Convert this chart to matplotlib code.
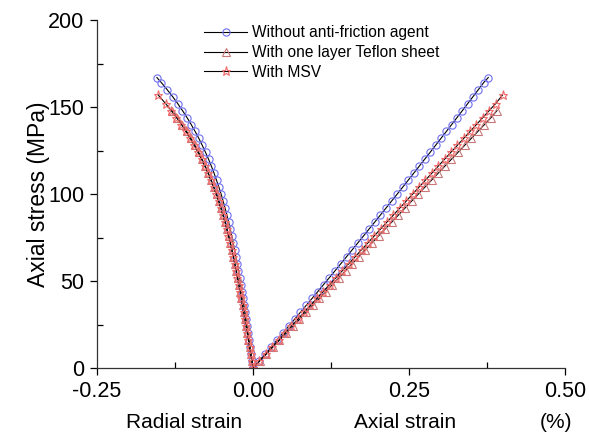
import matplotlib
matplotlib.use("Agg")
import matplotlib.pyplot as plt
from matplotlib.ticker import MultipleLocator

plt.rcParams['font.family'] = ['Liberation Sans', 'DejaVu Sans']

labels = ["Without anti-friction agent", "With one layer Teflon sheet", "With MSV"]

# Without anti-friction agent (blue circles)
stress_blue = [0, 4, 8, 12, 16, 20, 24, 28, 32, 36, 40, 44, 48, 52, 56, 60, 64, 68, 72, 76,
               80, 84, 88, 92, 96, 100, 104, 108, 112, 116, 120, 124, 128, 132, 136, 140,
               144, 148, 152, 156, 160, 164, 167]
axial_blue = [0.0, 0.0096, 0.0191, 0.0287, 0.0382, 0.0476, 0.0571, 0.0665, 0.0759, 0.0852,
              0.0946, 0.1039, 0.1131, 0.1224, 0.1316, 0.1408, 0.1499, 0.1590, 0.1681, 0.1772,
              0.1862, 0.1953, 0.2042, 0.2132, 0.2221, 0.2310, 0.2399, 0.2487, 0.2575, 0.2663,
              0.2750, 0.2838, 0.2925, 0.3011, 0.3098, 0.3184, 0.3269, 0.3355, 0.3440, 0.3525,
              0.3610, 0.3694, 0.3770]
radial_blue = [0.0, -0.0016, -0.0032, -0.0048, -0.0064, -0.0080, -0.0096, -0.0113, -0.0129,
               -0.0146, -0.0163, -0.0180, -0.0198, -0.0216, -0.0235, -0.0255, -0.0275, -0.0296,
               -0.0318, -0.0341, -0.0366, -0.0392, -0.0419, -0.0448, -0.0479, -0.0512, -0.0547,
               -0.0585, -0.0624, -0.0667, -0.0712, -0.0761, -0.0813, -0.0868, -0.0928, -0.0991,
               -0.1058, -0.1130, -0.1206, -0.1288, -0.1375, -0.1467, -0.1540]

# With one layer Teflon sheet (triangles)
stress_tef = [0, 4, 8, 12, 16, 20, 24, 28, 32, 36, 40, 44, 48, 52, 56, 60, 64, 68, 72, 76,
              80, 84, 88, 92, 96, 100, 104, 108, 112, 116, 120, 124, 128, 132, 136, 140,
              144, 148]
axial_tef = [0.0, 0.0106, 0.0212, 0.0318, 0.0424, 0.0530, 0.0636, 0.0742, 0.0848, 0.0954,
             0.1060, 0.1166, 0.1272, 0.1377, 0.1483, 0.1589, 0.1695, 0.1801, 0.1907, 0.2013,
             0.2119, 0.2225, 0.2331, 0.2437, 0.2543, 0.2649, 0.2755, 0.2861, 0.2967, 0.3073,
             0.3179, 0.3285, 0.3391, 0.3497, 0.3603, 0.3709, 0.3815, 0.3910]
radial_tef = [0.0, -0.0018, -0.0036, -0.0054, -0.0073, -0.0091, -0.0110, -0.0129, -0.0148,
              -0.0166, -0.0185, -0.0205, -0.0226, -0.0246, -0.0268, -0.0290, -0.0313, -0.0338,
              -0.0362, -0.0390, -0.0418, -0.0446, -0.0479, -0.0512, -0.0547, -0.0585, -0.0626,
              -0.0669, -0.0715, -0.0764, -0.0816, -0.0871, -0.0932, -0.0996, -0.1064, -0.1137,
              -0.1215, -0.1298]

# With MSV (stars)
stress_msv = [0, 4, 8, 12, 16, 20, 24, 28, 32, 36, 40, 44, 48, 52, 56, 60, 64, 68, 72, 76,
              80, 84, 88, 92, 96, 100, 104, 108, 112, 116, 120, 124, 128, 132, 136, 140,
              144, 148, 152, 157]
axial_msv = [0.0, 0.0102, 0.0205, 0.0307, 0.0409, 0.0512, 0.0614, 0.0716, 0.0818, 0.0921,
             0.1023, 0.1125, 0.1228, 0.1330, 0.1432, 0.1535, 0.1637, 0.1739, 0.1842, 0.1944,
             0.2046, 0.2148, 0.2251, 0.2353, 0.2455, 0.2558, 0.2660, 0.2762, 0.2865, 0.2967,
             0.3069, 0.3171, 0.3274, 0.3376, 0.3478, 0.3581, 0.3683, 0.3785, 0.3888, 0.4000]
radial_msv = [0.0, -0.0018, -0.0037, -0.0055, -0.0074, -0.0092, -0.0111, -0.0130, -0.0149,
              -0.0168, -0.0187, -0.0207, -0.0228, -0.0249, -0.0271, -0.0293, -0.0316, -0.0341,
              -0.0366, -0.0394, -0.0422, -0.0451, -0.0484, -0.0517, -0.0553, -0.0591, -0.0632,
              -0.0676, -0.0722, -0.0772, -0.0824, -0.0880, -0.0941, -0.1006, -0.1075, -0.1148,
              -0.1227, -0.1311, -0.1400, -0.1520]

xticks = [-0.25, 0.00, 0.25, 0.50]
xticklabels = ['-0.25', '0.00', '0.25', '0.50']
yticks = [0, 50, 100, 150, 200]

fig = plt.figure(figsize=(5.89, 4.33), dpi=100)
ax = fig.add_axes([0.1647, 0.150, 0.7946, 0.8035])

series = [
    (stress_blue, axial_blue, radial_blue, 'o', '#6f6ff0', 5.2, labels[0]),
    (stress_tef, axial_tef, radial_tef, '^', '#c87878', 5.2, labels[1]),
    (stress_msv, axial_msv, radial_msv, '*', '#f06a6a', 6.5, labels[2]),
]
for s, ax_s, rad_s, mk, col, ms, lab in series:
    kw = dict(color='black', lw=0.8, marker=mk, markersize=ms, markerfacecolor='none',
              markeredgecolor=col, markeredgewidth=0.8)
    ax.plot(ax_s, s, label=lab, **kw)
    ax.plot(rad_s, s, **kw)

ax.set_xlim(-0.25, 0.50)
ax.set_ylim(0, 200)
ax.set_xticks(xticks)
ax.set_xticklabels(xticklabels)
ax.set_yticks(yticks)
ax.xaxis.set_minor_locator(MultipleLocator(0.125))
ax.yaxis.set_minor_locator(MultipleLocator(25))
ax.tick_params(which='major', direction='out', length=5, width=0.9, labelsize=15.5,
               colors='black', pad=4)
ax.tick_params(which='minor', direction='in', length=4, width=0.9)
for sp in ['top', 'right']:
    ax.spines[sp].set_visible(False)
for sp in ['left', 'bottom']:
    ax.spines[sp].set_linewidth(0.9)
    ax.spines[sp].set_color('#333333')

ax.set_ylabel('Axial stress (MPa)', fontsize=16.5)
ax.yaxis.set_label_coords(-0.100, 0.5)

ax.text(0.186, -0.172, 'Radial strain', transform=ax.transAxes, ha='center', va='baseline', fontsize=15)
ax.text(0.658, -0.172, 'Axial strain', transform=ax.transAxes, ha='center', va='baseline', fontsize=15)
ax.text(0.981, -0.172, '(%)', transform=ax.transAxes, ha='center', va='baseline', fontsize=15)

ax.legend(loc='upper left', bbox_to_anchor=(0.215, 1.003), frameon=False, fontsize=11.2,
          handlelength=2.8, handletextpad=0.3, labelspacing=0.3, borderaxespad=0)

fig.savefig('out.png', dpi=100)
